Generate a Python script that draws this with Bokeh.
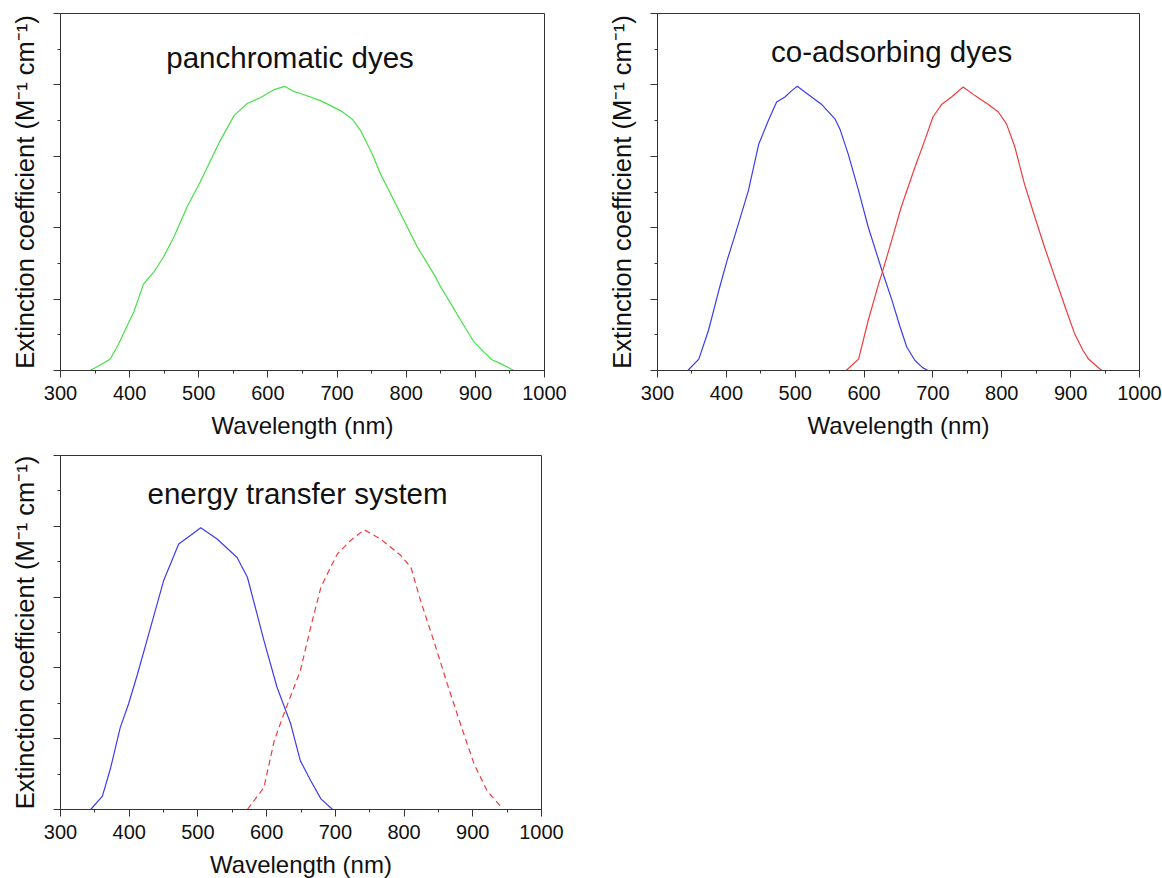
from bokeh.plotting import figure
from bokeh.models import Range1d, SingleIntervalTicker, Label, CustomLabelingPolicy
from bokeh.layouts import column, row
from bokeh.embed import file_html
from bokeh.resources import INLINE

# ---------------- data ----------------
pan_wl = [343, 358, 372, 384, 395, 406, 420, 435, 449, 464, 483, 502, 517, 531, 551,
          570, 589, 608, 624, 637, 647, 676, 705, 722, 734, 751, 763, 787, 816, 840,
          850, 865, 879, 898, 912, 924, 936, 956]
pan_ext = [0.00, 0.08, 0.16, 0.37, 0.60, 0.82, 1.21, 1.38, 1.59, 1.87, 2.29, 2.64, 2.94, 3.22, 3.57,
           3.74, 3.82, 3.93, 3.98, 3.91, 3.88, 3.78, 3.64, 3.52, 3.36, 3.03, 2.75, 2.29, 1.73, 1.35,
           1.17, 0.93, 0.70, 0.40, 0.26, 0.15, 0.10, 0.00]

co_blue_wl = [344, 360, 374, 389, 401, 413, 432, 447, 461, 473, 485, 495, 503, 514, 538,
              558, 565, 577, 592, 606, 626, 640, 652, 662, 674, 685, 693]
co_blue_ext = [0.00, 0.16, 0.56, 1.12, 1.54, 1.91, 2.52, 3.17, 3.50, 3.76, 3.83, 3.92, 3.98, 3.90, 3.73,
               3.52, 3.38, 3.03, 2.52, 2.01, 1.40, 1.00, 0.62, 0.33, 0.14, 0.04, 0.00]

co_red_wl = [574, 592, 606, 621, 626, 640, 654, 674, 688, 700, 713, 727, 744, 761, 780,
             795, 807, 819, 833, 848, 862, 877, 892, 906, 918, 926, 945]
co_red_ext = [0.00, 0.16, 0.70, 1.21, 1.36, 1.82, 2.29, 2.85, 3.22, 3.55, 3.73, 3.83, 3.97, 3.85, 3.73,
              3.62, 3.45, 3.13, 2.61, 2.15, 1.73, 1.31, 0.89, 0.51, 0.28, 0.16, 0.00]

et_blue_wl = [344, 361, 373, 387, 399, 412, 431, 450, 472, 489, 504, 528, 557, 572, 596,
              615, 635, 649, 664, 679, 696]
et_blue_ext = [0.00, 0.19, 0.59, 1.16, 1.49, 1.91, 2.57, 3.23, 3.75, 3.87, 3.98, 3.82, 3.56, 3.28, 2.39,
               1.73, 1.21, 0.69, 0.41, 0.15, 0.00]

et_red_wl = [572, 596, 611, 625, 640, 649, 664, 679, 693, 703, 722, 742, 766, 795, 810,
             824, 843, 863, 882, 902, 921, 940]
et_red_ext = [0.00, 0.31, 0.97, 1.35, 1.73, 1.96, 2.57, 3.14, 3.42, 3.61, 3.80, 3.95, 3.82, 3.59, 3.42,
              2.95, 2.39, 1.77, 1.21, 0.64, 0.26, 0.05]

titles = ["panchromatic dyes", "co-adsorbing dyes", "energy transfer system"]
x_label = "Wavelength (nm)"
y_label = "Extinction coefficient (M\u207b\u00b9 cm\u207b\u00b9)"

# ---------------- styling ----------------
FONT = "Liberation Sans"
AXC = "#333333"
GREEN = "#48e048"
BLUE = "#3c3cf0"
RED = "#f03c3c"

no_labels = CustomLabelingPolicy(code="""
    for (const i of indices) { indices.unset(i) }
    return indices
""")


def make_fig(fw, fh, lb, rb, tb, bb):
    p = figure(frame_width=fw, frame_height=fh,
               x_range=Range1d(300, 1000), y_range=Range1d(0, 5),
               output_backend="svg", toolbar_location=None,
               min_border_left=lb, min_border_right=rb,
               min_border_top=tb, min_border_bottom=bb)
    p.xgrid.visible = False
    p.ygrid.visible = False
    p.outline_line_color = AXC
    p.outline_line_width = 1
    p.background_fill_color = "white"
    p.border_fill_color = "white"

    p.xaxis.ticker = SingleIntervalTicker(interval=100, num_minor_ticks=2)
    p.yaxis.ticker = SingleIntervalTicker(interval=1, num_minor_ticks=2)
    for ax in (p.xaxis[0], p.yaxis[0]):
        ax.axis_line_color = AXC
        ax.major_tick_line_color = AXC
        ax.minor_tick_line_color = AXC
        ax.major_tick_in = 0
        ax.minor_tick_in = 0
        ax.major_tick_out = 7
        ax.minor_tick_out = 3
        ax.axis_label_text_font = FONT
        ax.axis_label_text_font_style = "normal"
        ax.axis_label_text_color = "#111111"
        ax.major_label_text_font = FONT
        ax.major_label_text_color = "#111111"
    p.xaxis.major_label_text_font_size = "20px"
    p.xaxis.major_label_standoff = 8
    p.xaxis.axis_label = x_label
    p.xaxis.axis_label_text_font_size = "24px"
    p.xaxis.axis_label_standoff = 9
    p.yaxis.major_label_policy = no_labels
    p.yaxis.major_label_text_font_size = "0px"
    p.yaxis.major_label_standoff = 0
    p.yaxis.axis_label = y_label
    p.yaxis.axis_label_text_font_size = "25.5px"
    p.yaxis.axis_label_standoff = 15
    return p


def add_title(p, text, x, y):
    p.add_layout(Label(x=x, y=y, text=text, text_font=FONT, text_font_size="29.5px",
                       text_color="#111111", text_align="center", text_baseline="alphabetic"))


p1 = make_fig(484, 357, 60, 60, 13, 80)
p1.line(pan_wl, pan_ext, line_color=GREEN, line_width=1.2)
add_title(p1, titles[0], 632, 4.39)

p2 = make_fig(482, 357, 52, 24, 13, 80)
p2.line(co_blue_wl, co_blue_ext, line_color=BLUE, line_width=1.2)
p2.line(co_red_wl, co_red_ext, line_color=RED, line_width=1.2)
add_title(p2, titles[1], 640, 4.47)

p3 = make_fig(481, 354, 60, 60, 5, 66)
p3.line(et_blue_wl, et_blue_ext, line_color=BLUE, line_width=1.2)
p3.line(et_red_wl, et_red_ext, line_color=RED, line_width=1.2, line_dash="6 4")
add_title(p3, titles[2], 645, 4.47)

layout = column(row(p1, p2), p3)
open("out.html", "w").write(file_html(layout, INLINE))
